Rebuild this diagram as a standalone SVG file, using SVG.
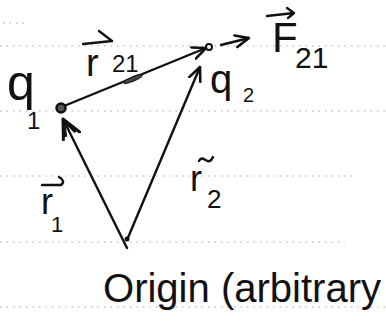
<svg xmlns="http://www.w3.org/2000/svg" width="386" height="325" viewBox="0 0 386 325">
<style>
.rule{stroke:#a8a8a8;stroke-width:1;stroke-dasharray:1.5 5;fill:none}
.ink{stroke:#111;stroke-width:2.4;fill:none;stroke-linecap:round;stroke-linejoin:round}
.lbl{font-family:"Liberation Sans",Arial,sans-serif;fill:#111}
</style>
<defs>
<marker id="head" viewBox="0 0 16 16" refX="14.5" refY="8" markerWidth="16" markerHeight="16" markerUnits="userSpaceOnUse" orient="auto">
<path d="M1,2 L14.5,8 L1,14" fill="none" stroke="#111" stroke-width="2.6" stroke-linecap="round" stroke-linejoin="round"/>
</marker>
<marker id="headBig" viewBox="0 0 22 22" refX="20" refY="11" markerWidth="22" markerHeight="22" markerUnits="userSpaceOnUse" orient="auto">
<path d="M1,2 L20,11 L1,20 M4,6 L20,11 L4,16" fill="none" stroke="#111" stroke-width="3" stroke-linecap="round" stroke-linejoin="round"/>
</marker>
</defs>
<rect width="386" height="325" fill="#fff"/>
<g id="ruled-paper">
<line class="rule" x1="3" y1="23" x2="26" y2="23"/>
<line class="rule" x1="0" y1="46" x2="386" y2="46"/>
<line class="rule" x1="0" y1="111" x2="386" y2="111"/>
<line class="rule" x1="0" y1="176" x2="352" y2="176"/>
<line class="rule" x1="0" y1="242" x2="345" y2="242"/>
<line class="rule" x1="0" y1="307" x2="386" y2="307"/>
</g>
<g id="connectors">
<path id="r1" class="ink" d="M127,248 L63,119" marker-end="url(#headBig)"/>
<path id="r2" class="ink" d="M127,240 L200,67" marker-end="url(#head)"/>
<path id="r21" class="ink" d="M64,106 L206,48" marker-end="url(#head)"/>
<path id="F21" class="ink" d="M221,45 L249,38" stroke-width="3" marker-end="url(#head)"/>
<ellipse cx="133" cy="79" rx="10" ry="2.2" transform="rotate(-22 133 79)" fill="#444" stroke="#111" stroke-width="1"/>
</g>
<g id="q1">
<circle cx="61" cy="108" r="4.5" fill="#555" stroke="#111" stroke-width="2.5"/>
<text class="lbl" x="7" y="100" font-size="50">q</text>
<text class="lbl" x="27" y="129" font-size="24">1</text>
</g>
<g id="q2">
<circle cx="209" cy="47" r="3" fill="#fff" stroke="#111" stroke-width="2"/>
<text class="lbl" x="210" y="93" font-size="40">q</text>
<text class="lbl" x="243" y="102" font-size="20">2</text>
</g>
<g id="origin">
<circle cx="127" cy="239" r="2.5" fill="#111"/>
<text class="lbl" x="103" y="302" font-size="40" textLength="278" lengthAdjust="spacingAndGlyphs">Origin (arbitrary</text>
</g>
<g id="label-r21">
<path class="ink" d="M83,44 L112,41 M99,31 L112,41" stroke-width="3"/>
<text class="lbl" x="86" y="76" font-size="38">r</text>
<text class="lbl" x="112" y="72" font-size="24">21</text>
</g>
<g id="label-F21">
<path class="ink" d="M267,16 L294,13 M287,8 L294,13 L288,18"/>
<text class="lbl" x="272" y="52" font-size="42">F</text>
<text class="lbl" x="295" y="68" font-size="30">21</text>
</g>
<g id="label-r1">
<path class="ink" d="M42,185 L61,185 Q66,181 59,177"/>
<text class="lbl" x="41" y="214" font-size="36">r</text>
<text class="lbl" x="51" y="232" font-size="22">1</text>
</g>
<g id="label-r2">
<path class="ink" d="M199,161 C203,153 208,168 213,157"/>
<text class="lbl" x="190" y="191" font-size="36">r</text>
<text class="lbl" x="207" y="208" font-size="26">2</text>
</g>
</svg>
